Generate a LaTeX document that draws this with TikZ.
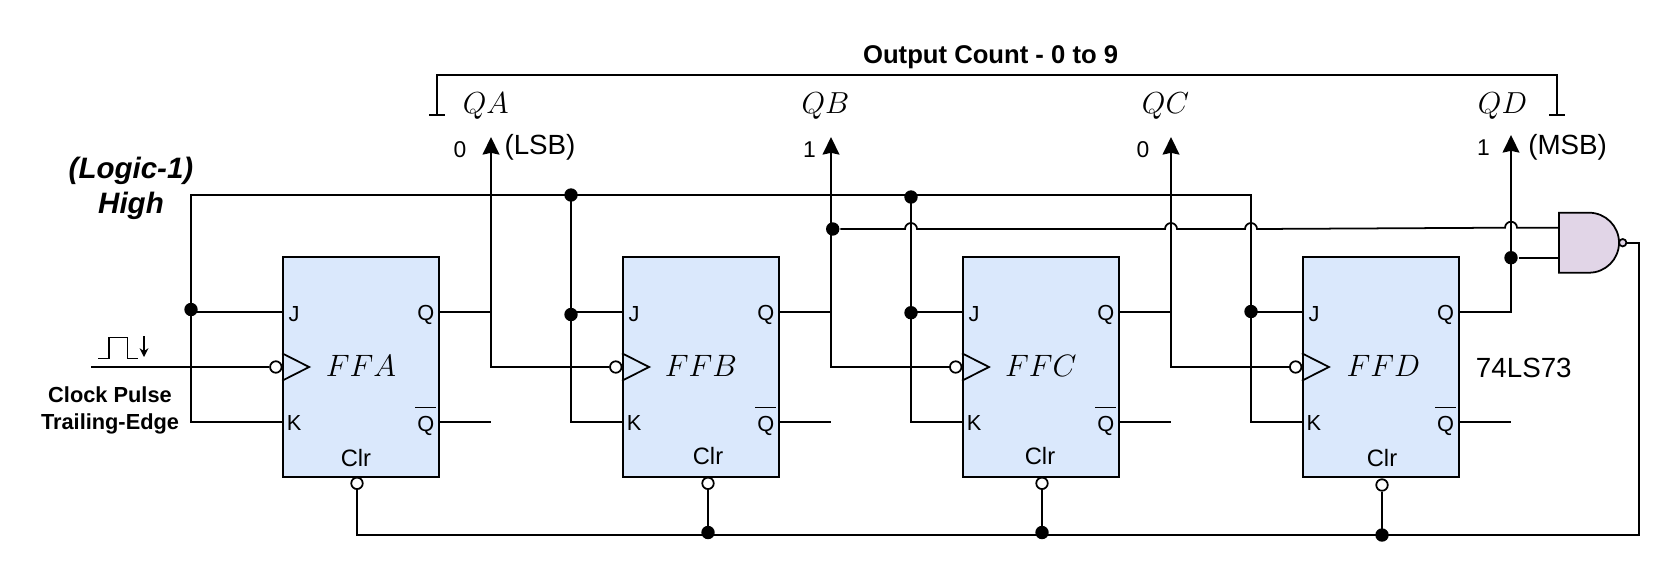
\documentclass[tikz,border=0pt]{standalone}
\usepackage{fix-cm}
\usepackage{fontspec}
\setmainfont{Liberation Sans}
\usetikzlibrary{arrows.meta,calc}
\definecolor{ffblue}{HTML}{DAE8FC}
\definecolor{gatepurple}{HTML}{E1D5E7}
\newcommand{\sz}[2]{\fontsize{#1}{#2}\selectfont}
\newcommand{\hop}[1]{-- ($(#1)+(-6,0)$) arc[start angle=180,end angle=360,radius=6]}
\newcommand{\clk}[1]{\draw[wire] ($(#1.west)+(0,-13.7)$) -- ($(#1.west)+(27,0)$) -- ($(#1.west)+(0,13.7)$);}
\newcommand{\qn}{$\overline{\rule{0pt}{12pt}\kern1.2pt\mbox{Q}\kern1.2pt}$}

\begin{document}
\begin{tikzpicture} [
    x = 0.02cm,
    y = -0.02cm,
    line width = 1pt,
    ff/.style = {rectangle, draw, fill=ffblue, inner sep=0pt, minimum width=3.12cm, minimum height=4.388cm,
    font=\sz{17.6}{22}},
    plbl/.style = {inner sep=0pt, font=\sz{12.4}{14}},
    clr/.style = {inner sep=0pt, font=\sz{13.5}{15}},
    bit/.style = {inner sep=0pt, font=\sz{13}{14}},
    big/.style = {inner sep=0pt, font=\sz{15.8}{18}},
    qlbl/.style = {inner sep=0pt, font=\sz{17.3}{20}},
    wire/.style = {draw, line width=1pt},
    arrow/.style = {draw, line width=1pt, -{Stealth[inset=1pt,width=9.6pt,length=10pt]}},
    dot/.style = {circle, fill=black, inner sep=0pt, minimum size=0.268cm},
    inv/.style = {circle, draw, fill=white, inner sep=0pt, minimum size=0.23cm},
    node distance = 6.8cm
    ]
    \useasboundingbox (0,0) rectangle (1672,582);

    % flip-flops
    \node[ff] (ffa) at (361,367) {\raisebox{1pt}{$FFA$}};
    \node[ff, right of=ffa] (ffb) {\raisebox{1pt}{$FFB$}};
    \node[ff, right of=ffb] (ffc) {\raisebox{1pt}{$FFC$}};
    \node[ff, right of=ffc] (ffd) {\raisebox{1pt}{\kern3pt$FFD$}};
    \clk{ffa} \clk{ffb} \clk{ffc} \clk{ffd}

    \coordinate (ffaj) at ($(ffa.west)+(0,-55)$);
    \coordinate (ffak) at ($(ffa.west)+(0,55)$);
    \coordinate (ffaq) at ($(ffa.east)+(0,-55)$);
    \coordinate (ffan) at ($(ffa.east)+(0,55)$);
    \coordinate (ffbj) at ($(ffb.west)+(0,-55)$);
    \coordinate (ffbk) at ($(ffb.west)+(0,55)$);
    \coordinate (ffbq) at ($(ffb.east)+(0,-55)$);
    \coordinate (ffbn) at ($(ffb.east)+(0,55)$);
    \coordinate (ffcj) at ($(ffc.west)+(0,-55)$);
    \coordinate (ffck) at ($(ffc.west)+(0,55)$);
    \coordinate (ffcq) at ($(ffc.east)+(0,-55)$);
    \coordinate (ffcn) at ($(ffc.east)+(0,55)$);
    \coordinate (ffdj) at ($(ffd.west)+(0,-55)$);
    \coordinate (ffdk) at ($(ffd.west)+(0,55)$);
    \coordinate (ffdq) at ($(ffd.east)+(0,-55)$);
    \coordinate (ffdn) at ($(ffd.east)+(0,55)$);

    % pin labels
    \node[plbl] (lja) at ($(ffaj)+(12,2.5)$) {J};
    \node[plbl] (lka) at ($(ffak)+(12,1)$) {K};
    \node[plbl] (lqa) at ($(ffaq)+(-14,3)$) {Q};
    \node[plbl, anchor=base] (lna) at ($(ffan)+(-14,9)$) {\qn};
    \node[clr] (lca) at (356,458) {Clr};
    \node[plbl] (ljb) at ($(ffbj)+(12,2.5)$) {J};
    \node[plbl] (lkb) at ($(ffbk)+(12,1)$) {K};
    \node[plbl] (lqb) at ($(ffbq)+(-14,3)$) {Q};
    \node[plbl, anchor=base] (lnb) at ($(ffbn)+(-14,9)$) {\qn};
    \node[clr] (lcb) at (708,456.5) {Clr};
    \node[plbl] (ljc) at ($(ffcj)+(12,2.5)$) {J};
    \node[plbl] (lkc) at ($(ffck)+(12,1)$) {K};
    \node[plbl] (lqc) at ($(ffcq)+(-14,3)$) {Q};
    \node[plbl, anchor=base] (lnc) at ($(ffcn)+(-14,9)$) {\qn};
    \node[clr] (lcc) at (1040,456.5) {Clr};
    \node[plbl] (ljd) at ($(ffdj)+(12,2.5)$) {J};
    \node[plbl] (lkd) at ($(ffdk)+(12,1)$) {K};
    \node[plbl] (lqd) at ($(ffdq)+(-14,3)$) {Q};
    \node[plbl, anchor=base] (lnd) at ($(ffdn)+(-14,9)$) {\qn};
    \node[clr] (lcd) at (1382,458.5) {Clr};

    % inverting inputs
    \node[inv] (ffab) at ($(ffa.west)+(-6.3,0)$) {};
    \node[inv] (ffbb) at ($(ffb.west)+(-6.3,0)$) {};
    \node[inv] (ffcb) at ($(ffc.west)+(-6.3,0)$) {};
    \node[inv] (ffdb) at ($(ffd.west)+(-6.3,0)$) {};
    \node[inv] (ffac) at (357,483.3) {};
    \node[inv] (ffbc) at (708,483.3) {};
    \node[inv] (ffcc) at (1042,483.3) {};
    \node[inv] (ffdc) at (1382,485) {};

    % outputs
    \coordinate (qa) at (491,137);
    \coordinate (qb) at (831,137);
    \coordinate (qc) at (1171,137);
    \coordinate (qd) at (1511,135);
    \coordinate (clkin) at (91,367);
    \draw[wire] (clkin) -- (ffab);
    \draw[arrow] (ffbb) -| (qa);
    \draw[arrow] (ffcb) -| (qb);
    \draw[arrow] (ffdb) -| (qc);
    \draw[arrow] (ffdq) -| (qd);
    \draw[wire] (ffaq) -- (ffaq -| qa);
    \draw[wire] (ffbq) -- (ffbq -| qb);
    \draw[wire] (ffcq) -- (ffcq -| qc);
    \draw[wire] (ffan) -- (ffan -| qa);
    \draw[wire] (ffbn) -- (ffbn -| qb);
    \draw[wire] (ffcn) -- (ffcn -| qc);
    \draw[wire] (ffdn) -- (ffdn -| qd);

    % high rail
    \coordinate (hia) at (191,195);
    \coordinate (hib) at (571,195);
    \coordinate (hic) at (911,195);
    \coordinate (hid) at (1251,195);
    \draw[wire] (ffak) -| (hia) -- (hid) |- (ffdk);
    \draw[wire] (hib) |- (ffbk);
    \draw[wire] (hic) |- (ffck);
    \draw[wire] (ffaj) -- (ffaj -| hia);
    \draw[wire] (ffbj) -- (ffbj -| hib);
    \draw[wire] (ffcj) -- (ffcj -| hic);
    \draw[wire] (ffdj) -- (ffdj -| hid);
    \node[dot] (dhb) at (hib) {};
    \node[dot] (dhc) at (911,197) {};
    \node[dot] (dja) at (191,309.5) {};
    \node[dot] (djb) at (571,314.5) {};
    \node[dot] (djc) at (911,312.7) {};
    \node[dot] (djd) at (1251,311.5) {};

    % gate
    \node[rectangle, inner sep=0pt, outer sep=0pt, minimum size=1.2cm] (nand) at (1589,242.7) {};
    \filldraw[fill=gatepurple] (nand.north west) -- (nand.north) arc[start angle=270, end angle=450, radius=30] -- (nand.south west) -- cycle;
    \node[inv, fill=gatepurple, minimum size=0.148cm] (nout) at ($(nand.east)+(3.7,0)$) {};
    \coordinate (gia) at ($(nand.west)+(0,-15)$);
    \coordinate (gib) at ($(nand.west)+(0,15)$);
    \node[dot] (dq) at (832.7,229) {};
    \node[dot] (dn) at (qd |- gib) {};
    \coordinate (hb) at (hic |- dq);
    \coordinate (hc) at (qc |- dq);
    \coordinate (hd) at (hid |- dq);
    \coordinate (he) at (qd |- gia);
    \draw[wire] (dq) \hop{hb} \hop{hc} \hop{hd} \hop{he} -- (gia);
    \draw[wire] (dn) -- (gib);

    % clear bus
    \coordinate (bus) at (1639,535);
    \draw[wire] (ffac) |- (bus) |- (nout);
    \draw[wire] (ffbc) -- (ffbc |- bus);
    \draw[wire] (ffcc) -- (ffcc |- bus);
    \draw[wire] (ffdc) -- (ffdc |- bus);
    \node[dot] (dbb) at (708,532.5) {};
    \node[dot] (dbc) at (1042,532.5) {};
    \node[dot] (dbd) at (1382,535) {};

    % output bracket
    \coordinate (bl) at (437,115);
    \coordinate (br) at (1557,115);
    \draw[wire] (bl) -- ++(0,-40.3) -| (br);
    \draw[wire] ($(bl)+(-8,0)$) -- ($(bl)+(8,0)$);
    \draw[wire] ($(br)+(-8,0)$) -- ($(br)+(8,0)$);

    % clock pulse
    \draw[line width=0.9pt] (98.3,358.3) -- (109,358.3) -- (109,337.7) -- (127.7,337.7) -- (127.7,358.3) -- (137.7,358.3);
    \draw[line width=0.9pt, -{Stealth[width=5pt,length=5pt]}] (144,336) -- (144,357);

    % labels
    \node[font=\sz{14.6}{17}\bfseries, inner sep=0pt] (title) at (990.6,57.5) {Output Count - 0 to 9};
    \node[font=\sz{16.8}{19.6}\bfseries\itshape, inner sep=0pt, align=center] (high) at (131,188.5) {(Logic-1)\\High};
    \node[font=\sz{12.4}{15.8}\bfseries, inner sep=0pt, align=center] (clock) at (110,410.5) {Clock Pulse\\Trailing-Edge};
    \node[qlbl] (nqa) at (485.7,106) {$QA$};
    \node[qlbl] (nqb) at (825.4,106) {$QB$};
    \node[qlbl] (nqc) at (1165.5,106) {$QC$};
    \node[qlbl] (nqd) at (1502.5,106) {$QD$};
    \node[bit] (va) at (460,150) {0};
    \node[bit] (vb) at (809.4,150) {1};
    \node[bit] (vc) at (1143,150) {0};
    \node[bit] (vd) at (1483.4,148) {1};
    \node[big] (lsb) at (540,147.7) {(LSB)};
    \node[big] (msb) at (1567.6,147.7) {(MSB)};
    \node[big] (part) at (1523.8,368) {74LS73};
\end{tikzpicture}
\end{document}
